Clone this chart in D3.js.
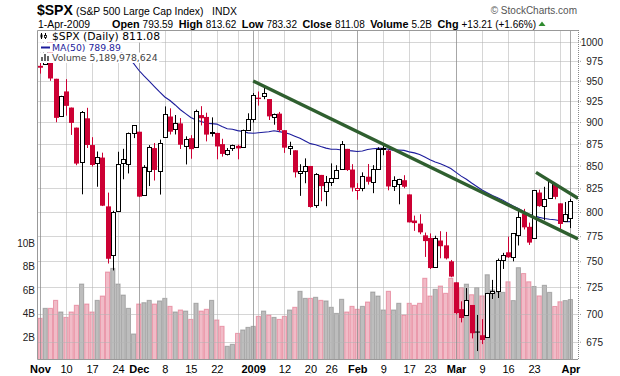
<!DOCTYPE html>
<html><head><meta charset="utf-8">
<script src="https://cdn.jsdelivr.net/npm/d3@7"></script>
<style>
body{margin:0;background:#fff}
svg{display:block}
text{font-family:Arial,"Liberation Sans",sans-serif}
</style>
</head><body>
<svg id="c" width="620" height="376"></svg>
<script>
// ---------------- DATA ----------------
const dates = ["2008-11-03","2008-11-04","2008-11-05","2008-11-06","2008-11-07","2008-11-10","2008-11-11","2008-11-12","2008-11-13","2008-11-14","2008-11-17","2008-11-18","2008-11-19","2008-11-20","2008-11-21","2008-11-24","2008-11-25","2008-11-26","2008-11-28",
"2008-12-01","2008-12-02","2008-12-03","2008-12-04","2008-12-05","2008-12-08","2008-12-09","2008-12-10","2008-12-11","2008-12-12","2008-12-15","2008-12-16","2008-12-17","2008-12-18","2008-12-19","2008-12-22","2008-12-23","2008-12-24","2008-12-26","2008-12-29","2008-12-30","2008-12-31",
"2009-01-02","2009-01-05","2009-01-06","2009-01-07","2009-01-08","2009-01-09","2009-01-12","2009-01-13","2009-01-14","2009-01-15","2009-01-16","2009-01-20","2009-01-21","2009-01-22","2009-01-23","2009-01-26","2009-01-27","2009-01-28","2009-01-29","2009-01-30",
"2009-02-02","2009-02-03","2009-02-04","2009-02-05","2009-02-06","2009-02-09","2009-02-10","2009-02-11","2009-02-12","2009-02-13","2009-02-17","2009-02-18","2009-02-19","2009-02-20","2009-02-23","2009-02-24","2009-02-25","2009-02-26","2009-02-27",
"2009-03-02","2009-03-03","2009-03-04","2009-03-05","2009-03-06","2009-03-09","2009-03-10","2009-03-11","2009-03-12","2009-03-13","2009-03-16","2009-03-17","2009-03-18","2009-03-19","2009-03-20","2009-03-23","2009-03-24","2009-03-25","2009-03-26","2009-03-27","2009-03-30","2009-03-31",
"2009-04-01"];

const open = [968.67,971.31,1001.84,952.40,907.44,936.75,917.15,893.39,853.13,904.36,873.23,852.34,859.03,805.87,755.84,801.20,853.40,852.90,886.89,
888.61,817.94,843.60,869.75,844.43,882.71,906.48,892.17,898.35,871.79,881.07,871.53,908.16,905.98,886.96,887.20,874.31,863.87,869.51,872.37,870.58,890.59,
902.99,929.17,931.17,927.45,905.73,909.91,890.40,869.79,867.28,841.99,844.45,849.64,806.77,839.74,822.16,832.50,837.30,845.73,868.89,845.69,
823.09,825.69,837.77,831.75,846.09,868.24,866.87,827.41,829.91,833.95,818.61,791.06,787.91,775.87,773.25,744.69,770.64,765.76,749.93,
729.57,704.44,698.60,708.27,684.04,680.76,679.28,719.59,720.89,751.97,758.84,753.88,776.01,797.92,784.58,772.31,820.60,806.81,814.06,828.68,809.07,790.88,
793.59];

const high = [975.57,1007.51,1001.84,952.40,931.46,951.95,917.15,893.39,913.01,916.88,882.29,865.90,864.57,820.52,801.20,865.60,868.94,887.68,896.25,
888.61,850.54,873.12,875.60,879.42,918.57,916.26,908.27,904.63,883.24,884.63,914.66,918.85,911.02,905.47,887.37,880.44,869.79,873.74,873.70,891.12,910.32,
934.73,936.63,943.85,927.45,910.00,911.93,890.40,877.02,867.28,851.59,858.13,849.64,841.72,839.74,838.61,852.53,850.45,877.86,868.89,851.66,
830.78,842.60,851.85,850.55,870.75,875.01,868.05,838.22,835.48,839.43,818.61,796.17,797.58,778.69,777.85,775.49,780.12,779.42,751.27,
729.57,711.67,724.12,708.27,699.09,695.27,719.60,731.92,752.63,758.29,774.53,778.12,803.04,803.24,788.91,823.37,823.65,826.78,832.98,828.68,809.07,810.48,
813.62];

const low = [958.82,971.31,949.86,899.73,906.90,907.47,884.90,850.48,818.69,869.88,848.98,826.84,806.18,747.78,741.02,801.20,834.99,841.37,881.21,
815.69,817.94,827.60,833.60,818.41,882.71,885.38,885.45,868.73,851.35,857.72,871.53,895.94,877.44,883.02,857.09,860.10,861.44,866.52,857.07,870.58,889.67,
899.35,919.53,927.28,902.37,896.81,888.31,864.32,862.02,836.93,817.04,830.66,804.47,804.30,811.29,806.07,827.69,835.40,845.73,844.15,821.67,
812.87,821.98,829.18,819.91,845.42,861.65,822.99,822.30,808.06,825.21,789.17,780.43,777.03,754.25,742.37,744.69,752.89,751.75,734.52,
699.70,692.30,698.60,677.93,666.79,672.88,679.28,713.85,714.76,742.46,753.37,749.93,765.64,781.82,766.20,772.31,805.48,791.37,814.06,813.43,779.81,790.88,
783.32];

const close = [966.30,1005.75,952.77,904.88,930.99,919.21,898.95,852.30,911.29,873.29,850.75,859.12,806.58,752.44,800.03,851.81,857.39,887.68,896.24,
816.21,848.81,870.74,845.22,876.07,909.70,888.67,899.24,873.59,879.73,868.57,913.18,904.42,885.28,887.88,871.63,863.16,868.15,872.80,869.42,890.64,903.25,
931.80,927.45,934.70,906.65,909.73,890.35,870.26,871.79,842.62,843.74,850.12,805.22,840.24,827.50,831.95,836.57,845.71,874.09,845.14,825.88,
825.44,838.51,832.23,845.85,868.60,869.89,827.16,833.74,835.19,826.84,789.17,788.42,778.94,770.05,743.33,773.14,764.90,752.83,735.09,
700.82,696.33,712.87,682.55,683.38,676.53,719.60,721.36,750.74,756.55,753.89,778.12,794.35,784.04,768.54,822.92,806.12,813.88,832.86,815.94,787.53,797.87,
811.08];

// volume in billions of shares
const volume = [3.59,4.44,4.44,5.12,4.13,3.67,4.13,4.70,6.51,4.81,4.13,5.12,5.49,7.53,7.84,6.51,5.57,4.44,2.26,
4.81,4.92,5.12,4.81,5.07,5.29,4.61,4.13,4.30,4.21,3.50,4.87,4.21,4.36,5.12,3.45,2.91,1.21,1.38,2.31,2.60,2.82,
2.91,3.76,4.21,3.87,3.67,3.50,3.76,4.30,4.53,5.89,5.29,5.29,5.38,5.12,5.07,4.53,4.01,5.21,4.13,4.61,
4.36,4.61,4.98,5.83,5.49,4.30,5.89,4.30,4.87,3.87,4.87,4.70,4.87,7.0,5.49,6.06,6.34,5.72,7.0,
6.6,6.2,6.5,5.6,6.2,5.5,7.3,6.0,5.8,5.8,6.7,5.1,7.9,7.4,6.7,6.3,5.5,6.4,5.8,4.6,5.0,5.1,
5.19];

// closes before the first visible day (Sep 2 - Oct 31 2008), used for MA(50)
const priorCloses = [1277.58,1274.98,1236.83,1242.31,1267.79,1224.51,1232.04,1249.05,1251.70,1192.70,1213.60,1156.39,1206.51,1255.08,1207.09,1188.22,1185.87,1209.18,1213.27,1106.42,1166.36,
1161.06,1114.28,1099.23,1056.89,996.23,984.94,909.92,899.22,1003.35,998.01,907.84,946.43,940.55,985.40,955.05,896.78,908.11,876.77,848.92,940.51,930.09,954.09,968.75];

const priceTicks = [1000,975,950,925,900,875,850,825,800,775,750,725,700,675];
const volumeTicks = [2,4,6,8,10];
const volumeTickLabels = ["2B","4B","6B","8B","10B"];
const dateTickDates = ["2008-11-03","2008-11-10","2008-11-17","2008-11-24","2008-12-01","2008-12-08","2008-12-15","2008-12-22","2009-01-02","2009-01-12","2009-01-20","2009-01-26","2009-02-02","2009-02-09","2009-02-17","2009-02-23","2009-03-02","2009-03-09","2009-03-16","2009-03-23","2009-04-01"];
const dateTickLabels = ["Nov","10","17","24","Dec","8","15","22","2009","12","20","26","Feb","9","17","23","Mar","9","16","23","Apr"];
const dateTickBold = [1,0,0,0,1,0,0,0,1,0,0,0,1,0,0,0,1,0,0,0,1];

// header quote row: [label, value]
const quoteLabels = ["Open","High","Low","Close","Volume","Chg"];
const quoteValues = ["793.59","813.62","783.32","811.08","5.2B","+13.21 (+1.66%)"];

// trend lines drawn on the chart: [dayIndex, price]
const trendLine1 = [[41, 949.6],[103.46, 772.3]];
const trendLine2 = [[95.38, 842.6],[103.46, 814.4]];

// ---------------- CHART ----------------
const svg = d3.select("#c");
const L = 37, R = 578, T = 30, B = 359;
const n = dates.length;
const x = d3.scaleLinear().domain([0, n - 1]).range([40, 570.4]);
const y = d3.scaleLog().domain([659.9, 1015.2]).range([B, T]);
const yv = d3.scaleLinear().domain([0, 10]).range([360.5, 243]);
const parse = d3.timeParse("%Y-%m-%d");
const dts = dates.map(parse);
const idxOf = d => dates.indexOf(d);

const RED = "#cc0033", BLK = "#000000";
const prevClose = close.map((c, i) => i === 0 ? priorCloses[priorCloses.length - 1] : close[i - 1]);
const isRed = close.map((c, i) => c < prevClose[i]);

// MA(50)
const allC = priorCloses.concat(close);
const ma = close.map((c, i) => {
  const k = priorCloses.length + i;
  if (k < 49) return null;
  return d3.mean(allC.slice(k - 49, k + 1));
});

svg.append("rect").attr("width", 620).attr("height", 376).attr("fill", "#fff");

const defs = svg.append("defs");
defs.append("clipPath").attr("id", "plot").append("rect")
  .attr("x", L).attr("y", T).attr("width", R - L).attr("height", B - T);

const plot = svg.append("g").attr("clip-path", "url(#plot)");

// volume bars
plot.append("g").selectAll("rect").data(volume).join("rect")
  .attr("x", (d, i) => x(i) - 2.1)
  .attr("width", 4.2)
  .attr("y", d => yv(d))
  .attr("height", d => 362 - yv(d))
  .attr("fill", (d, i) => isRed[i] ? "#d21e44" : "#7c7c7c")
  .attr("fill-opacity", (d, i) => isRed[i] ? 0.3 : 0.5)
  .attr("stroke", (d, i) => isRed[i] ? "#d21e44" : "#6a6a6a")
  .attr("stroke-opacity", (d, i) => isRed[i] ? 0.35 : 0.45)
  .attr("stroke-width", 1);

// gridlines
const grid = plot.append("g");
grid.selectAll("line.h").data(priceTicks).join("line")
  .attr("x1", L).attr("x2", R)
  .attr("y1", d => Math.round(y(d)) + 0.5).attr("y2", d => Math.round(y(d)) + 0.5)
  .attr("stroke", "#b4b4b4").attr("stroke-opacity", 0.55);
const monthIdx = [], weekIdx = [];
dts.forEach((d, i) => {
  if (i === 0 || d.getMonth() !== dts[i - 1].getMonth()) monthIdx.push(i);
  else if (d.getDay() < dts[i - 1].getDay()) weekIdx.push(i);
});
grid.selectAll("line.w").data(weekIdx).join("line")
  .attr("x1", i => Math.round(x(i)) + 0.5).attr("x2", i => Math.round(x(i)) + 0.5)
  .attr("y1", T).attr("y2", B)
  .attr("stroke", "#b4b4b4").attr("stroke-opacity", 0.55);
grid.selectAll("line.m").data(monthIdx).join("line")
  .attr("x1", i => Math.round(x(i)) + 0.5).attr("x2", i => Math.round(x(i)) + 0.5)
  .attr("y1", T).attr("y2", B)
  .attr("stroke", "#8a8a8a").attr("stroke-opacity", 0.75);

// MA line
const maLine = d3.line().defined(d => d !== null).x((d, i) => x(i)).y(d => y(d));
plot.append("path").datum(ma).attr("d", maLine)
  .attr("fill", "none").attr("stroke", "#1c1c9c").attr("stroke-width", 1.1);

// candles
const cg = plot.append("g");
close.forEach((c, i) => {
  const col = isRed[i] ? RED : BLK;
  const cx = Math.round(x(i));
  cg.append("line")
    .attr("x1", cx + 0.5).attr("x2", cx + 0.5)
    .attr("y1", y(high[i])).attr("y2", y(low[i]))
    .attr("stroke", col).attr("stroke-width", 1);
  const top = y(Math.max(open[i], c)), bot = y(Math.min(open[i], c));
  const h = Math.max(1, bot - top);
  if (c >= open[i]) {
    cg.append("rect").attr("x", cx - 1.5).attr("width", 4)
      .attr("y", Math.round(top) + 0.5).attr("height", Math.max(1, Math.round(h)))
      .attr("fill", "#fff").attr("stroke", col).attr("stroke-width", 1);
  } else {
    cg.append("rect").attr("x", cx - 2).attr("width", 5)
      .attr("y", top).attr("height", h)
      .attr("fill", col);
  }
});

// trend lines
const tl = d3.line().x(d => x(d[0])).y(d => y(d[1]));
[trendLine1, trendLine2].forEach(t => {
  plot.append("path").datum(t).attr("d", tl)
    .attr("fill", "none").attr("stroke", "#2f5f2f").attr("stroke-width", 3.4);
});

// legend (white boxes behind each line)
const leg = svg.append("g");
const legLines = [
  {txt: "$SPX (Daily) " + close[n - 1].toFixed(2), col: "#000", size: 10.8, base: 40, top: 30.5, bot: 42.5},
  {txt: "MA(50) " + ma[n - 1].toFixed(2), col: "#1c1c9c", size: 9.3, base: 50.5, top: 42.5, bot: 52.5},
  {txt: "Volume 5,189,978,624", col: "#444", size: 9.3, base: 61, top: 52.5, bot: 63}
];
legLines.forEach(l => {
  const r = leg.append("rect").attr("fill", "#fff");
  const t = leg.append("text").attr("x", 52).attr("y", l.base)
    .style("font-family", "'DejaVu Sans',Verdana,sans-serif").style("font-size", l.size + "px")
    .attr("fill", l.col).text(l.txt);
  const bb = t.node().getBBox();
  r.attr("x", L + 0.5).attr("y", l.top).attr("width", bb.x + bb.width + 1 - L).attr("height", l.bot - l.top);
});
// legend icons
const ic = leg.append("g");
ic.append("line").attr("x1", 41.5).attr("x2", 41.5).attr("y1", 33).attr("y2", 39).attr("stroke", "#000");
ic.append("rect").attr("x", 40.5).attr("y", 34.5).attr("width", 2).attr("height", 3).attr("fill", "#000");
ic.append("line").attr("x1", 45.5).attr("x2", 45.5).attr("y1", 33).attr("y2", 39).attr("stroke", "#000");
ic.append("rect").attr("x", 44.5).attr("y", 35.5).attr("width", 2).attr("height", 2).attr("fill", "#fff").attr("stroke", "#000").attr("stroke-width", 0.8);
ic.append("line").attr("x1", 41).attr("x2", 50).attr("y1", 47.5).attr("y2", 47.5).attr("stroke", "#1c1c9c").attr("stroke-width", 2);
[[41, 4], [44, 7], [47, 5]].forEach(b => ic.append("rect").attr("x", b[0]).attr("y", 61 - b[1]).attr("width", 2).attr("height", b[1]).attr("fill", "#666"));

// border
svg.append("path").attr("d", `M${R},${T}.5H${L}.5V${B}.5H${R}`)
  .attr("fill", "none").attr("stroke", "#999");
svg.append("line").attr("x1", R + 0.5).attr("x2", R + 0.5).attr("y1", T).attr("y2", B + 1)
  .attr("stroke", "#888").attr("stroke-dasharray", "1,1");

// right price axis
const ay = svg.append("g").attr("transform", `translate(${R},0)`)
  .call(d3.axisRight(y).tickValues(priceTicks).tickFormat(d3.format("d")).tickSize(3));
ay.select(".domain").remove();
ay.selectAll(".tick line").attr("stroke", "#999").attr("stroke-dasharray", "1,1");
ay.selectAll(".tick text").attr("x", 25).attr("text-anchor", "end").attr("dy", "0.35em")
  .style("font-size", "10px").style("font-family", "Arial,'Liberation Sans',sans-serif").attr("fill", "#222");

// volume labels (left)
svg.append("g").selectAll("text").data(volumeTicks).join("text")
  .attr("x", 35).attr("y", d => yv(d)).attr("dy", "0.35em").attr("text-anchor", "end")
  .style("font-size", "10px").attr("fill", "#222").text((d, i) => volumeTickLabels[i]);

// bottom date axis
const ax = svg.append("g").attr("transform", `translate(0,${B})`)
  .call(d3.axisBottom(x).tickValues(dateTickDates.map(idxOf)).tickFormat((d, i) => dateTickLabels[i]).tickSize(0));
ax.select(".domain").remove();
ax.selectAll(".tick text").attr("y", 6).attr("dy", "0.71em")
  .style("font-size", "11px").style("font-family", "Arial,'Liberation Sans',sans-serif")
  .style("font-weight", (d, i) => dateTickBold[i] ? "bold" : "normal").attr("fill", "#000");
ax.selectAll(".tick").append("line").attr("y1", 14).attr("y2", 15).attr("stroke", "#aaa");

// header
const hdr = svg.append("g").attr("fill", "#000");
hdr.append("text").attr("x", 37).attr("y", 15).style("font-size", "14px").style("font-weight", "bold").text("$SPX");
hdr.append("text").attr("x", 76).attr("y", 15).style("font-size", "10.4px").text("(S&P 500 Large Cap Index)");
hdr.append("text").attr("x", 212).attr("y", 15).style("font-size", "10.4px").text("INDX");
svg.append("text").attr("x", 577).attr("y", 14).attr("text-anchor", "end")
  .style("font-size", "10px").attr("fill", "#555").text("\u00A9 StockCharts.com");
hdr.append("text").attr("x", 38).attr("y", 28).style("font-size", "10.4px").text("1-Apr-2009");
let qx = 112;
quoteLabels.forEach((lab, i) => {
  const a = hdr.append("text").attr("x", qx).attr("y", 28)
    .style("font-size", "10.8px").style("font-weight", "bold").text(lab);
  qx += a.node().getComputedTextLength() + 3;
  const b = hdr.append("text").attr("x", qx).attr("y", 28)
    .style("font-size", "10px").text(quoteValues[i]);
  qx += b.node().getComputedTextLength() + 5.5;
});
svg.append("path").attr("d", `M${qx - 3},26L${qx + 4},26L${qx + 0.5},21.5Z`).attr("fill", "#2e8b2e");
</script>
</body></html>
